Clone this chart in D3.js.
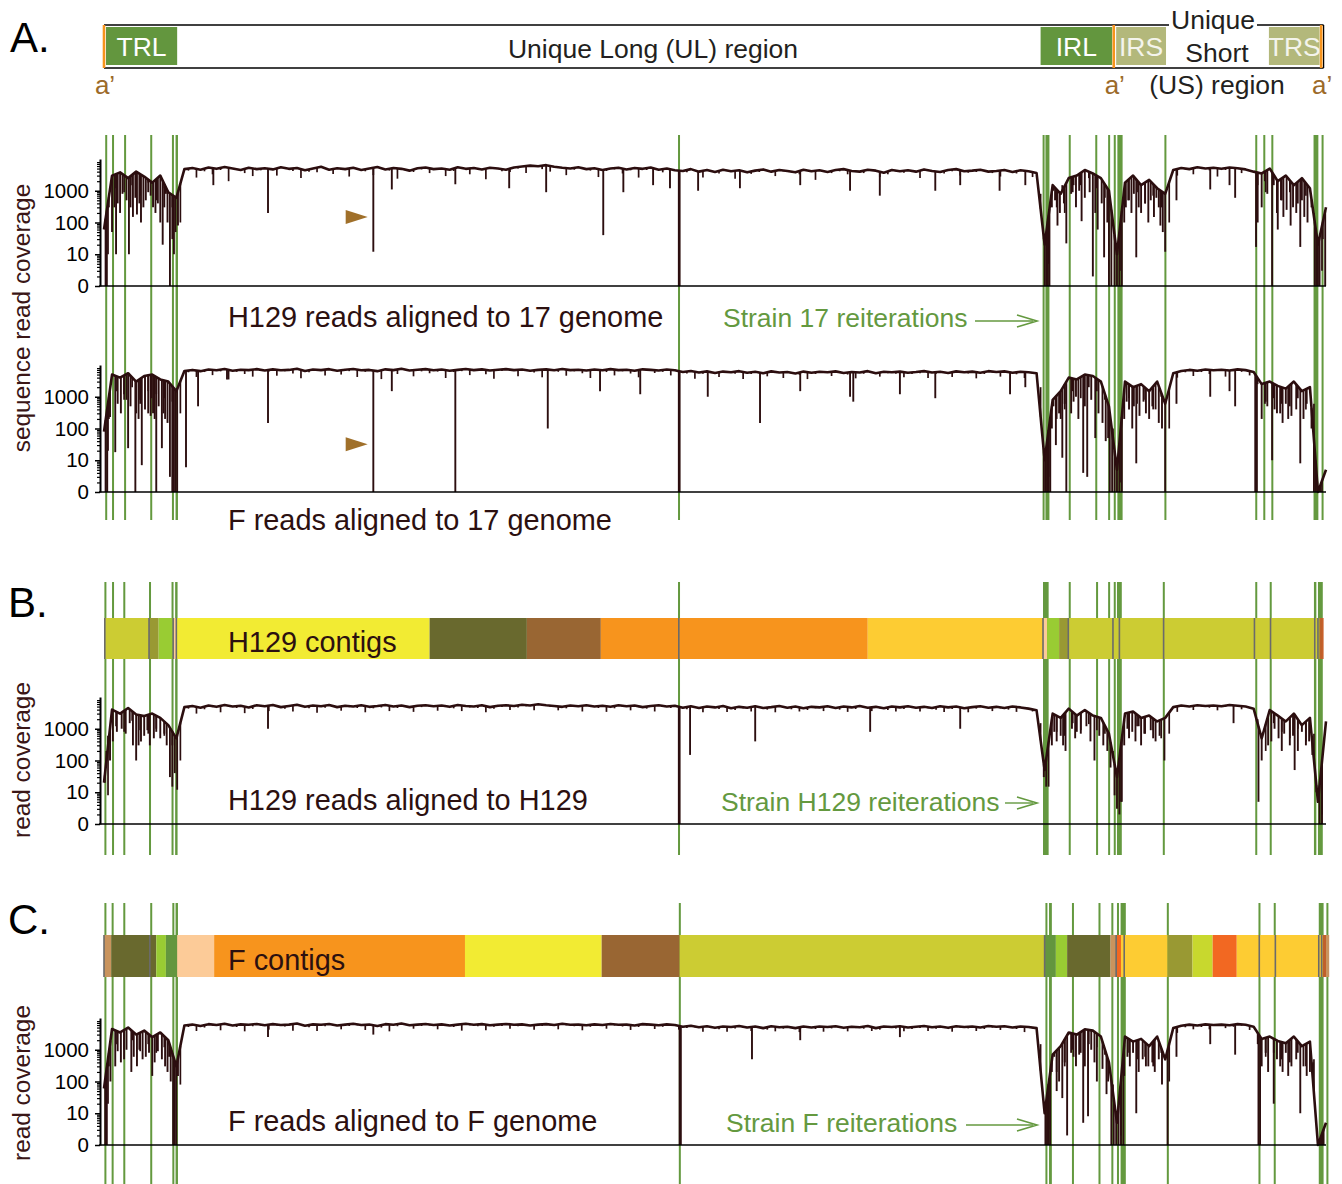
<!DOCTYPE html>
<html>
<head>
<meta charset="utf-8">
<script src="https://cdn.jsdelivr.net/npm/d3@7"></script>
<style>
  body { margin: 0; background: #fff; }
  svg text { font-family: "Liberation Sans", Arial, Helvetica, sans-serif; }
</style>
</head>
<body>
<div id="chart"></div>
<script>
// genome positions are in kb along the strain 17 map
var genomeLength = 152;

// y axis ticks (log scale, "0" drawn at 1 read)
var tickValues = [1, 10, 100, 1000];
var tickLabels = ["0", "10", "100", "1000"];
var minorTicks = [2, 3, 4, 5, 6, 7, 8, 9, 20, 30, 40, 50, 60, 70, 80, 90,
  200, 300, 400, 500, 600, 700, 800, 900, 2000, 3000, 4000, 5000, 6000, 7000, 8000];

// genome map regions
var regionNames = ["TRL", "IRL", "IRS", "TRS"];
var regionStart = [0.25, 116.5, 125.9, 144.9];
var regionEnd = [9.1, 125.4, 132.1, 151.2];
var aPrimeSites = [0, 125.6, 151.4];

// reiteration positions [start kb, end kb]
var reiter17 = [[0.15, 0.35], [1.0, 1.2], [2.5, 2.7], [5.75, 5.95], [8.45, 8.7], [8.9, 9.2],
  [71.4, 71.6], [116.75, 116.95], [117.1, 117.6], [120.0, 120.2], [123.3, 123.5], [124.9, 125.1],
  [125.6, 125.85], [126.05, 126.7], [131.9, 132.1], [143.2, 143.4], [144.2, 144.4], [145.2, 145.4],
  [150.45, 151.05], [151.45, 151.65]];
var reiterH129 = [[0.05, 0.25], [1.0, 1.2], [2.4, 2.6], [5.6, 5.8], [8.4, 8.6], [8.85, 9.15],
  [71.4, 71.6], [116.8, 117.5], [120.0, 120.2], [123.4, 123.6], [124.9, 125.1], [125.6, 125.8],
  [126.0, 126.6], [131.7, 131.9], [143.2, 143.4], [145.0, 145.2], [150.5, 150.8], [151.0, 151.6]];
var reiterF = [[0.05, 0.25], [0.95, 1.1], [2.4, 2.6], [5.75, 5.95], [8.5, 8.75], [8.9, 9.2],
  [71.5, 71.7], [117.1, 117.3], [117.55, 117.9], [120.4, 120.6], [123.7, 123.9], [125.3, 125.5],
  [126.0, 126.2], [126.45, 127.1], [132.2, 132.4], [143.6, 143.8], [145.5, 145.7], [151.1, 151.7],
  [152.05, 152.2]];

// contigs [start kb, end kb, colour]
var h129Contigs = [[0.1, 5.6, "#cccc33"], [5.6, 6.8, "#999933"], [6.8, 8.6, "#99cc33"], [8.6, 9.0, "#fccb98"],
  [9.0, 40.5, "#f2eb33"], [40.5, 52.6, "#69692e"], [52.6, 61.8, "#996633"], [61.8, 95.0, "#f7941d"],
  [95.0, 116.8, "#fdcc33"], [116.8, 117.3, "#fccb98"], [117.3, 118.8, "#99cc33"], [118.8, 120.0, "#999933"],
  [120.0, 150.5, "#cccc33"], [150.5, 151.2, "#cccc33"], [151.2, 151.5, "#c0602a"], [151.5, 151.7, "#c8602a"]];
var h129Breaks = [0.1, 5.6, 8.6, 9.0, 71.5, 116.8, 119.95, 125.5, 126.3, 131.8, 143.1, 145.1, 150.6, 151.0];
var fContigs = [[0, 0.9, "#c9945e"], [0.9, 6.5, "#69692e"], [6.5, 7.7, "#99cc33"], [7.7, 9.1, "#63963e"],
  [9.1, 13.7, "#fccb98"], [13.7, 44.9, "#f7941d"], [44.9, 61.9, "#f2eb33"], [61.9, 71.6, "#996633"],
  [71.6, 117.0, "#cccc33"], [117.0, 118.4, "#63963e"], [118.4, 119.8, "#99cc33"], [119.8, 125.2, "#69692e"],
  [125.2, 126.0, "#c9945e"], [126.0, 126.5, "#f26822"], [126.5, 132.3, "#fdcc33"], [132.3, 135.4, "#999933"],
  [135.4, 137.9, "#c8d82e"], [137.9, 140.9, "#f26822"], [140.9, 151.6, "#fdcc33"], [151.6, 152.0, "#c0602a"],
  [152.0, 152.4, "#c9945e"]];
var fBreaks = [0, 5.7, 117.0, 125.9, 126.9, 143.7, 145.7, 151.1, 151.45];

// read coverage per kb: top value at each kb, lowest value in the following half kb
var h129On17 = [60, 3000, 3800, 2500, 4000, 2800, 1800, 3000, 900, 600,
  4800, 5200, 4600, 5400, 4900, 5600, 5000, 4500, 5300, 4800,
  5100, 4700, 5500, 4900, 5200, 4400, 5000, 5700, 4600, 5100,
  4800, 5300, 4500, 5000, 5600, 4700, 5200, 4900, 4300, 5100,
  5400, 4800, 5000, 4600, 5500, 4900, 5200, 4700, 5300, 5000,
  4600, 5400, 5800, 6200, 5900, 6400, 5700, 5300, 5000, 5500,
  4800, 5100, 4500, 5000, 5300, 4700, 5200, 4900, 5400, 4600,
  5000, 4400, 4200, 4800, 4000, 4500, 3900, 4600, 4100, 4400,
  3800, 4300, 4700, 4000, 4500, 4200, 3800, 4600, 4100, 4400,
  3900, 4500, 4800, 4200, 4000, 4600, 4300, 3700, 4500, 4100,
  4400, 4000, 4700, 4200, 3900, 4500, 4800, 4100, 4300, 4600,
  4000, 4200, 4500, 3900, 4400, 4100, 3600, 20, 1500, 800,
  2500, 3000, 4500, 3500, 2500, 1000, 10, 1800, 3000, 1500,
  2200, 1200, 800, 4500, 5200, 4800, 5500, 5000, 5300, 4900,
  5400, 5100, 4700, 4000, 3500, 5000, 2000, 3000, 1500, 2500,
  1200, 20, 300];
var h129On17Low = [10, 1200, 900, 1500, 700, 1800, 500, 1200, 300, 100,
  4300, 2600, 4100, 3300, 4500, 2000, 4600, 3600, 2900, 4400,
  4800, 3000, 5000, 4200, 2500, 4000, 3800, 5100, 3400, 4700,
  2800, 4900, 4100, 3100, 5200, 4300, 2400, 4400, 3900, 4700,
  3600, 4500, 2900, 4200, 5000, 3300, 4800, 2300, 4900, 4100,
  3900, 5000, 3600, 5600, 4800, 4000, 5300, 3100, 4600, 4900,
  4300, 2700, 4200, 4700, 3500, 4400, 2600, 4500, 5000, 3800,
  4600, 3000, 3800, 4300, 2600, 4100, 3500, 4200, 2400, 4000,
  3400, 3900, 4300, 2900, 4100, 3800, 3300, 4200, 2200, 4000,
  3600, 4100, 3300, 3900, 3600, 4200, 2700, 3300, 4100, 3700,
  4000, 2500, 4300, 3800, 3500, 4100, 3000, 3700, 3900, 4200,
  3600, 2800, 4100, 3500, 3900, 2700, 800, 5, 300, 200,
  900, 1500, 2500, 1200, 600, 100, 3, 500, 900, 400,
  700, 300, 100, 3000, 4700, 3300, 5000, 4400, 2800, 4500,
  4900, 3600, 4300, 1500, 900, 2500, 500, 900, 400, 700,
  200, 3, 50];
var h129On17Dips = [[0.2, 1], [0.35, 1], [0.6, 300], [1.0, 50], [1.3, 300], [1.5, 10], [1.7, 400],
  [2.0, 200], [2.3, 800], [2.8, 500], [3.1, 10], [3.3, 300], [3.6, 150], [3.9, 600], [4.1, 180],
  [4.4, 400], [4.6, 100], [4.9, 300], [5.2, 500], [5.5, 900], [5.8, 700], [6.1, 300], [6.4, 200],
  [6.7, 400], [7.0, 100], [7.3, 20], [7.5, 300], [7.7, 800], [7.9, 100],
  [8.2, 1], [8.5, 30], [8.7, 10], [8.9, 50], [9.2, 80], [13.6, 1500], [20.4, 200], [33.5, 12],
  [35.8, 1100], [43.7, 1600], [50.4, 1200], [55.0, 900], [62.1, 40], [64.6, 900], [68.3, 1500],
  [70.4, 1200], [71.5, 1], [71.6, 1], [73.9, 1000], [79.1, 1200], [86.6, 1500], [92.8, 1000],
  [96.5, 700], [103.4, 1000], [106.5, 1500], [111.4, 1000], [114.6, 1500],
  [116.9, 30], [117.0, 1], [117.2, 1], [117.4, 1], [117.6, 1], [117.9, 300], [118.1, 1000],
  [118.3, 500], [118.6, 80], [118.9, 200], [119.2, 1500], [119.4, 400], [119.7, 22], [120.3, 800],
  [120.6, 1500], [120.9, 300], [121.3, 1000], [121.6, 110], [122.0, 600], [122.6, 900], [123.0, 2],
  [123.3, 200], [123.6, 60], [124.1, 400], [124.4, 8], [124.8, 100],
  [125.0, 1], [125.3, 1], [125.7, 1], [126.0, 1], [126.3, 1], [126.6, 1], [126.9, 100], [127.1, 300],
  [127.4, 500], [127.8, 200], [128.1, 800], [128.4, 8], [128.7, 300], [129.0, 200], [129.5, 400],
  [129.9, 100], [130.2, 500], [130.6, 150], [130.9, 600], [131.2, 300], [131.4, 80], [131.7, 50],
  [132.0, 12], [133.4, 500], [137.6, 1100], [140.0, 1500], [140.7, 600], [143.3, 17], [143.5, 100],
  [144.0, 300], [144.4, 2000], [144.7, 800], [145.3, 1], [145.5, 1500], [145.9, 200], [146.0, 60],
  [146.4, 500], [146.7, 150], [147.1, 250], [147.6, 80], [147.9, 300], [148.3, 200], [148.8, 17],
  [149.0, 500], [149.3, 150], [149.7, 100], [150.2, 300], [150.6, 1],
  [150.8, 1], [151.0, 1], [151.2, 1], [151.6, 30], [151.9, 1]];

var fOn17 = [80, 5000, 4000, 5500, 3000, 4500, 5000, 3500, 3000, 1500,
  6500, 7000, 6400, 7200, 6800, 7500, 6600, 7100, 6900, 7400,
  6700, 7300, 6800, 7000, 7600, 6500, 7200, 6900, 7400, 6600,
  7100, 7500, 6800, 7000, 6400, 7300, 6900, 7600, 6700, 7100,
  7400, 6800, 7200, 6600, 7000, 7500, 6900, 7300, 6700, 7100,
  7400, 6900, 7200, 6600, 7000, 7300, 6800, 7500, 6900, 7100,
  6700, 7200, 6800, 7400, 6900, 7100, 6600, 7300, 7000, 6700,
  7200, 6800, 6000, 6500, 5800, 6300, 5600, 6200, 5900, 6400,
  5700, 6100, 5500, 6300, 5800, 6000, 5400, 6200, 5700, 6100,
  5900, 6300, 5600, 6000, 5800, 6400, 5500, 6100, 5900, 6200,
  5700, 6000, 6400, 5800, 6100, 5600, 6300, 5900, 6200, 5700,
  6400, 6000, 6300, 5700, 6100, 5900, 5500, 10, 800, 1500,
  4000, 3500, 5000, 4500, 3000, 500, 5, 3000, 2000, 2500,
  1500, 3000, 600, 5500, 6500, 7000, 6600, 7200, 6800, 7100,
  6700, 7300, 6900, 6000, 2500, 3000, 2200, 1800, 3000, 1500,
  2000, 1, 5];
var fOn17Low = [20, 1500, 800, 2000, 600, 1500, 1200, 900, 700, 300,
  5900, 4200, 6000, 4800, 6300, 3500, 6100, 5200, 4300, 6600,
  6200, 4600, 6300, 5400, 3800, 5900, 6500, 4700, 6800, 5000,
  6400, 4200, 6100, 6400, 3600, 6600, 5200, 6900, 4400, 6300,
  5500, 6200, 3900, 6000, 6400, 4800, 6700, 5100, 3700, 6500,
  6600, 4400, 6500, 5800, 4100, 6700, 6100, 4600, 6300, 5500,
  3900, 6500, 6000, 4700, 6300, 5400, 4100, 6600, 5600, 6100,
  4700, 6200, 5400, 3700, 5300, 5800, 4200, 5700, 5300, 3600,
  5200, 5500, 4400, 5700, 3900, 5400, 4900, 3600, 5200, 5600,
  4500, 5700, 5000, 3800, 5300, 5800, 4300, 5500, 5300, 4100,
  5200, 5500, 3900, 5300, 5600, 4200, 5700, 5400, 3800, 5200,
  5800, 4300, 5700, 5100, 3900, 5300, 2000, 3, 200, 400,
  1500, 900, 2000, 1500, 800, 100, 2, 900, 600, 800,
  400, 1000, 100, 4000, 5900, 4500, 6000, 5200, 6500, 4300,
  6400, 6100, 4700, 2500, 700, 900, 600, 500, 900, 400,
  600, 1, 2];
var fOn17Dips = [[0.2, 1], [0.4, 1], [0.6, 200], [0.75, 230], [1.4, 18], [1.7, 600], [2.1, 300],
  [2.5, 1200], [2.8, 800], [3.0, 24], [3.3, 500], [3.9, 1], [4.0, 300], [4.3, 200], [4.5, 800],
  [4.7, 7], [5.1, 400], [5.5, 300], [5.8, 250], [5.9, 900], [6.1, 300], [6.3, 200], [6.5, 1],
  [6.8, 500], [7.2, 24], [7.4, 300], [7.6, 200], [7.9, 150],
  [8.2, 3], [8.5, 1], [8.7, 1], [8.9, 1], [9.1, 1], [10.2, 6], [11.7, 500], [15.3, 3500],
  [20.4, 150], [33.5, 1], [35.8, 1500], [43.7, 1], [55.2, 100], [61.7, 1500], [66.7, 1200],
  [71.5, 1], [71.6, 1], [75.1, 1000], [81.6, 150], [86.6, 1500], [92.8, 1000], [93.2, 700],
  [99.0, 1200], [103.4, 900], [112.7, 1200], [114.6, 2000],
  [116.9, 1], [117.1, 1], [117.3, 1], [117.5, 1], [117.7, 1], [117.9, 100], [118.1, 500],
  [118.4, 30], [118.8, 300], [119.0, 200], [119.2, 12], [119.5, 600], [119.7, 1], [120.3, 300],
  [120.6, 700], [120.9, 1000], [121.2, 200], [121.8, 4], [122.0, 500], [122.3, 3], [122.8, 800],
  [123.3, 50], [123.7, 300], [124.2, 150], [124.6, 40], [124.9, 50], [125.1, 1], [125.4, 1],
  [125.7, 1], [126.0, 1], [126.3, 1], [126.6, 1], [126.9, 200], [127.2, 700], [127.5, 400],
  [127.9, 100], [128.1, 500], [128.4, 8], [128.8, 250], [129.3, 700], [129.6, 300], [130.0, 200],
  [130.4, 500], [130.8, 400], [131.2, 150], [131.6, 100], [132.0, 1], [133.4, 600], [137.6, 1000],
  [140.0, 1500], [140.7, 500], [143.2, 1], [143.4, 1], [144.0, 200], [144.4, 600], [144.7, 500],
  [145.3, 10], [145.6, 400], [145.9, 300], [146.3, 300], [146.6, 150], [147.0, 600], [147.3, 200],
  [147.7, 250], [148.3, 400], [148.8, 8], [149.2, 200], [149.6, 600], [150.2, 100],
  [150.5, 1], [150.7, 1], [150.9, 1], [151.1, 1], [151.3, 1]];

var h129OnH129 = [20, 4000, 3000, 4500, 2800, 2500, 3000, 2200, 1300, 500,
  4800, 5200, 4600, 5400, 4900, 5600, 5000, 5300, 4700, 5500,
  5100, 5600, 4800, 5200, 5700, 4900, 5400, 5100, 5600, 4800,
  5300, 5000, 5500, 4900, 5200, 5600, 5000, 5400, 4800, 5300,
  5500, 5100, 5400, 4900, 5600, 5200, 5000, 5500, 4800, 5300,
  5500, 5200, 5700, 5400, 5900, 5500, 5200, 4900, 5400, 5100,
  5500, 5000, 5300, 4900, 5500, 5100, 5400, 4800, 5200, 5500,
  5000, 5300, 4600, 5100, 4500, 5000, 4700, 5200, 4400, 4900,
  4600, 5100, 4500, 4800, 5200, 4600, 5000, 4400, 4900, 4700,
  5100, 4500, 5000, 4700, 5200, 4600, 4900, 4400, 5000, 4700,
  5100, 4600, 4900, 4500, 5100, 4700, 5000, 4400, 4800, 5100,
  4600, 4900, 4500, 5000, 4700, 4300, 3800, 50, 3000, 2200,
  4300, 2600, 3900, 2600, 2200, 700, 30, 3000, 3500, 2200,
  2600, 1700, 2200, 4800, 5400, 5000, 5500, 5200, 5400, 5100,
  5600, 5300, 5000, 4300, 500, 3900, 2600, 1700, 3000, 1300,
  2200, 5, 1700];
var h129OnH129Low = [8, 1200, 800, 1800, 900, 700, 1000, 600, 300, 100,
  4300, 3000, 4100, 4800, 3300, 5000, 4500, 3100, 4200, 4900,
  3600, 5000, 4300, 3500, 5100, 4400, 3200, 4600, 5000, 3700,
  4800, 4500, 3300, 4400, 4700, 3600, 4500, 4900, 3400, 4800,
  5000, 3700, 4900, 4400, 3600, 4700, 4500, 3300, 4300, 4800,
  3900, 4700, 5100, 3800, 5300, 4900, 3800, 4400, 4900, 3500,
  5000, 4500, 3400, 4400, 4900, 3800, 4800, 4300, 3500, 4900,
  4500, 3600, 4100, 4600, 3300, 4500, 4200, 3400, 3900, 4400,
  3500, 4600, 4000, 3300, 4700, 4100, 3500, 3900, 4400, 3600,
  4600, 4000, 3400, 4200, 4700, 3600, 4400, 3900, 3500, 4200,
  4600, 3500, 4400, 4000, 3400, 4200, 4500, 3300, 4300, 4600,
  3600, 4400, 4000, 3400, 4200, 3500, 1500, 15, 800, 600,
  1500, 900, 1400, 900, 700, 200, 5, 900, 1200, 700,
  900, 500, 700, 3400, 4900, 3900, 5000, 4600, 3800, 4900,
  5000, 4100, 4600, 2000, 200, 1500, 800, 500, 1000, 400,
  700, 2, 500];
var h129OnH129Dips = [[0.1, 20], [0.3, 200], [0.5, 600], [0.75, 100], [1.1, 400], [1.6, 800],
  [2.2, 1000], [2.7, 700], [3.2, 1500], [3.6, 300], [4.0, 100], [4.3, 300], [4.6, 400], [5.0, 600],
  [5.4, 900], [5.7, 300], [6.2, 500], [6.5, 800], [7.0, 500], [7.5, 700], [7.8, 300],
  [8.2, 30], [8.5, 15], [8.8, 40], [9.1, 12], [20.4, 1000],
  [71.5, 1], [71.6, 1], [72.9, 150], [81.0, 400], [95.3, 800], [106.5, 1000], [116.9, 30],
  [117.2, 15], [117.9, 300], [118.2, 800], [118.5, 400], [119.0, 600], [119.3, 300], [119.6, 200],
  [120.4, 1000], [120.8, 500], [121.0, 800], [121.5, 700], [122.2, 1200], [122.7, 400], [123.2, 100],
  [123.8, 600], [124.3, 300], [124.8, 200], [125.2, 60], [125.7, 8],
  [126.0, 3], [126.3, 2], [126.6, 5], [126.9, 300], [127.3, 1000], [127.5, 500], [127.9, 800],
  [128.3, 400], [128.7, 1200], [129.0, 300], [129.4, 700], [130.2, 900], [130.5, 500], [130.8, 400],
  [131.3, 600], [131.9, 100], [140.5, 1500], [143.6, 5], [144.0, 100], [144.8, 300], [145.2, 400],
  [145.6, 1000], [146.1, 500], [146.5, 200], [146.8, 700], [147.5, 300], [147.9, 600], [148.1, 50],
  [148.5, 200], [149.0, 800], [149.5, 300], [149.9, 400], [150.3, 150], [150.8, 10],
  [151.2, 1], [151.5, 1]];

var fOnF = [60, 4500, 3500, 5000, 3000, 4000, 2500, 3500, 2000, 300,
  5800, 6200, 5600, 6400, 6000, 6600, 5800, 6300, 6100, 6500,
  5900, 6400, 6000, 6200, 6700, 5700, 6300, 6100, 6500, 5800,
  6200, 6600, 6000, 6200, 5600, 6400, 6100, 6700, 5900, 6200,
  6500, 6000, 6300, 5800, 6200, 6600, 6100, 6400, 5900, 6200,
  6500, 6100, 6300, 5800, 6200, 6400, 6000, 6600, 6100, 6200,
  5900, 6300, 6000, 6500, 6100, 6200, 5800, 6400, 6200, 5900,
  6300, 6000, 5300, 5700, 5100, 5500, 4900, 5400, 5200, 5600,
  5000, 5400, 4800, 5500, 5100, 5300, 4800, 5400, 5000, 5400,
  5200, 5500, 4900, 5300, 5100, 5600, 4800, 5400, 5200, 5500,
  5000, 5300, 5600, 5100, 5400, 4900, 5500, 5200, 5400, 5000,
  5600, 5300, 5500, 5000, 5400, 5200, 4800, 10, 700, 1300,
  3500, 3000, 4400, 4000, 2600, 400, 5, 2600, 1800, 2200,
  1300, 2600, 500, 4800, 5700, 6200, 5800, 6300, 6000, 6200,
  5900, 6400, 6100, 5300, 2200, 2600, 1900, 1600, 2600, 1300,
  1800, 1, 5];
var fOnFLow = [20, 1500, 1000, 2000, 900, 1500, 800, 1200, 600, 80,
  5200, 3900, 5000, 5700, 4100, 5900, 5200, 3800, 5500, 5800,
  4300, 5800, 5400, 4000, 6000, 5100, 3900, 5500, 5900, 4400,
  5600, 5900, 4200, 5600, 5000, 3800, 5500, 6000, 4600, 5600,
  5800, 4400, 5700, 5200, 4000, 5900, 5500, 4100, 5300, 5600,
  4600, 5500, 5700, 4300, 5600, 5800, 4400, 5900, 5500, 4100,
  5300, 5700, 4600, 5800, 5400, 4200, 5200, 5800, 4500, 5300,
  5700, 4300, 4800, 5100, 3700, 4900, 4400, 3700, 4700, 5000,
  3900, 4900, 4300, 3800, 4600, 4800, 3600, 4900, 4500, 3700,
  4700, 4900, 3800, 4800, 4600, 3900, 4300, 4900, 4700, 3800,
  4500, 4800, 3900, 4600, 4900, 3700, 5000, 4700, 3900, 4500,
  5000, 4200, 4900, 4500, 3600, 4700, 1500, 3, 200, 300,
  1000, 800, 1500, 1200, 700, 80, 2, 800, 500, 600,
  300, 800, 100, 3400, 5100, 4400, 5200, 4400, 5700, 4800,
  5300, 5700, 4200, 1500, 600, 800, 500, 400, 800, 300,
  500, 1, 2];
var fOnFDips = [[0.15, 1], [0.35, 1], [0.6, 300], [0.8, 100], [1.4, 300], [1.7, 900], [2.1, 400],
  [2.5, 500], [2.8, 1000], [3.4, 200], [3.7, 600], [4.1, 300], [4.4, 1000], [4.8, 500], [5.2, 600],
  [5.6, 800], [6.0, 150], [6.3, 400], [6.7, 900], [7.2, 500], [7.6, 300], [7.9, 200], [8.1, 600],
  [8.3, 100], [8.6, 1], [8.8, 1], [9.0, 1], [9.2, 150],
  [20.4, 2500], [33.5, 3000], [71.6, 1], [71.75, 1], [80.6, 500], [86.6, 2000], [99.0, 2500],
  [117.1, 1], [117.3, 1], [117.5, 1], [117.7, 1], [117.9, 200], [118.2, 600], [118.5, 50],
  [118.8, 100], [119.2, 30], [119.5, 400], [119.8, 2], [120.3, 800], [120.6, 600], [120.9, 300],
  [121.3, 700], [121.8, 5], [122.0, 300], [122.4, 8], [122.8, 1000], [123.2, 400], [123.5, 100],
  [124.2, 250], [124.7, 40], [124.9, 100], [125.3, 1], [125.6, 1], [125.9, 1], [126.2, 1],
  [126.5, 1], [126.8, 1], [126.9, 150], [127.3, 600], [127.6, 300], [128.0, 800], [128.4, 10],
  [128.7, 200], [129.2, 500], [129.6, 300], [129.9, 300], [130.4, 400], [130.7, 200], [131.2, 500],
  [131.6, 80], [132.3, 1], [133.4, 600], [137.6, 1500], [140.7, 700], [143.6, 1], [143.8, 1],
  [144.0, 300], [144.5, 800], [144.8, 200], [145.5, 20], [145.9, 500], [146.3, 300], [146.6, 200],
  [147.0, 800], [147.3, 150], [147.7, 300], [148.3, 500], [148.8, 10], [149.2, 300], [149.6, 150],
  [150.0, 200], [150.4, 400], [151.1, 1], [151.3, 1], [151.5, 1], [151.7, 1]];

// ------------------------------------------------------------------
var green = "#64993f", traceColor = "#2c0e0f", labelColor = "#2c1010", brown = "#9c6a29";

var svg = d3.select("#chart").append("svg")
  .attr("width", 1342).attr("height", 1184);

var x = d3.scaleLinear().domain([0, genomeLength]).range([104, 1326]);

function drawReiterations(regions, top, bottom) {
  svg.append("g").selectAll("rect")
    .data(regions).enter().append("rect")
      .attr("x", function (d) { return x(d[0]); })
      .attr("width", function (d) { return Math.max(2, x(d[1]) - x(d[0])); })
      .attr("y", top)
      .attr("height", bottom - top)
      .attr("fill", green);
}

function drawContigs(contigs, breaks, top, height) {
  var g = svg.append("g");
  g.selectAll("rect.contig")
    .data(contigs).enter().append("rect")
      .attr("class", "contig")
      .attr("x", function (d) { return x(d[0]); })
      .attr("width", function (d) { return x(d[1]) - x(d[0]); })
      .attr("y", top).attr("height", height)
      .attr("fill", function (d) { return d[2]; });
  g.selectAll("rect.brk")
    .data(breaks).enter().append("rect")
      .attr("class", "brk")
      .attr("x", function (d) { return x(d) - 0.8; })
      .attr("width", 1.6)
      .attr("y", top).attr("height", height)
      .attr("fill", "#6b6b6b");
}

function coverageChart(zeroY, high, low, dips) {
  var y = d3.scaleLog().domain([1, 10000]).range([zeroY, zeroY - 127]);
  var yv = function (v) { return y(Math.max(1, v)); };
  // pixel height of the drawn trace at any genome position
  var traceY = function (kb) {
    var i = Math.min(high.length - 2, Math.floor(kb)), f = kb - i;
    return yv(high[i]) * (1 - f) + yv(high[i + 1]) * f;
  };
  var g = svg.append("g");

  var line = d3.line()
    .x(function (d, i) { return x(i); })
    .y(function (d) { return yv(d); });
  g.append("path")
    .datum(high)
    .attr("d", line)
    .attr("fill", "none")
    .attr("stroke", traceColor)
    .attr("stroke-width", 2.6)
    .attr("stroke-linejoin", "round");

  // low points within each kb
  g.selectAll("line.low")
    .data(low.slice(0, high.length - 1)).enter().append("line")
      .attr("class", "low")
      .attr("x1", function (d, i) { return x(i + 0.5); })
      .attr("x2", function (d, i) { return x(i + 0.5); })
      .attr("y1", function (d) { return yv(d); })
      .attr("y2", function (d, i) { return traceY(i + 0.5); })
      .attr("stroke", traceColor)
      .attr("stroke-width", 1.7);

  g.selectAll("line.dip")
    .data(dips).enter().append("line")
      .attr("class", "dip")
      .attr("x1", function (d) { return x(d[0]); })
      .attr("x2", function (d) { return x(d[0]); })
      .attr("y1", function (d) { return yv(d[1]); })
      .attr("y2", function (d) { return traceY(d[0]); })
      .attr("stroke", traceColor)
      .attr("stroke-width", 1.9);

  // baseline
  g.append("line")
    .attr("x1", 99).attr("x2", x(genomeLength))
    .attr("y1", zeroY).attr("y2", zeroY)
    .attr("stroke", "#000").attr("stroke-width", 1.6);

  var ax = g.append("g").attr("transform", "translate(100,0)")
    .call(d3.axisLeft(y).tickValues(tickValues)
      .tickFormat(function (d, i) { return tickLabels[i]; })
      .tickSize(5).tickPadding(6).tickSizeOuter(0));
  ax.selectAll("text").attr("font-size", 20.5).attr("fill", "#000")
    .style("font-family", "Liberation Sans, Arial, sans-serif");
  ax.select(".domain").attr("stroke-width", 2);
  ax.selectAll(".tick line").attr("stroke-width", 1.5);
  var mx = g.append("g").attr("transform", "translate(100,0)")
    .call(d3.axisLeft(y).tickValues(minorTicks).tickFormat("").tickSize(3).tickSizeOuter(0));
  mx.select(".domain").remove();
  mx.selectAll(".tick line").attr("stroke-width", 1.2);
  return y;
}

function label(txt, px, py, size, color, anchor) {
  return svg.append("text")
    .attr("x", px).attr("y", py)
    .attr("font-size", size)
    .attr("fill", color)
    .attr("text-anchor", anchor || "start")
    .text(txt);
}

function reiterArrow(x1, x2, py) {
  svg.append("line").attr("x1", x1).attr("x2", x2 - 4).attr("y1", py).attr("y2", py)
    .attr("stroke", green).attr("stroke-width", 1.4);
  svg.append("path")
    .attr("d", "M" + (x2 - 20) + "," + (py - 6) + " L" + x2 + "," + py + " L" + (x2 - 20) + "," + (py + 6))
    .attr("fill", "none").attr("stroke", green).attr("stroke-width", 1.6);
}

// ---------------- reiteration lines (behind everything) ----------------
drawReiterations(reiter17, 135, 520);
drawReiterations(reiterH129, 582, 855);
drawReiterations(reiterF, 903, 1184);

// ---------------- A. genome map ----------------
label("A.", 10, 52, 42, "#000");
label("B.", 8, 617, 42, "#000");
label("C.", 8, 934, 42, "#000");

var regionFill = { TRL: "#63963e", IRL: "#63963e", IRS: "#b3b87b", TRS: "#b3b87b" };
svg.append("g").selectAll("rect")
  .data(regionNames).enter().append("rect")
    .attr("x", function (d, i) { return x(regionStart[i]); })
    .attr("width", function (d, i) { return x(regionEnd[i]) - x(regionStart[i]); })
    .attr("y", 27).attr("height", 38)
    .attr("fill", function (d) { return regionFill[d]; });
svg.append("g").selectAll("text")
  .data(regionNames).enter().append("text")
    .attr("x", function (d, i) { return (x(regionStart[i]) + x(regionEnd[i])) / 2; })
    .attr("y", 56)
    .attr("text-anchor", "middle")
    .attr("font-size", 26.5)
    .attr("fill", function (d) { return regionFill[d] === "#b3b87b" ? "#f4f4ec" : "#fff"; })
    .text(function (d) { return d; });

svg.append("line").attr("x1", x(0)).attr("x2", x(151.7)).attr("y1", 25).attr("y2", 25)
  .attr("stroke", "#000").attr("stroke-width", 1.3);
svg.append("line").attr("x1", x(0)).attr("x2", x(151.7)).attr("y1", 68).attr("y2", 68)
  .attr("stroke", "#000").attr("stroke-width", 1.5);
svg.append("line").attr("x1", x(151.7)).attr("x2", x(151.7)).attr("y1", 25).attr("y2", 68)
  .attr("stroke", "#000").attr("stroke-width", 1.3);
svg.append("g").selectAll("line")
  .data(aPrimeSites).enter().append("line")
    .attr("x1", function (d) { return x(d); }).attr("x2", function (d) { return x(d); })
    .attr("y1", 25).attr("y2", 68)
    .attr("stroke", "#f7941d").attr("stroke-width", 2.6);
svg.append("g").selectAll("text")
  .data(aPrimeSites).enter().append("text")
    .attr("x", function (d) { return x(d) + 1; })
    .attr("y", 94)
    .attr("text-anchor", "middle")
    .attr("font-size", 26)
    .attr("fill", brown)
    .text("a\u2019");

label("Unique Long (UL) region", 653, 58, 26.5, "#231f20", "middle");
var uq = label("Unique", 1213, 29, 26.5, "#231f20", "middle");
var bb = uq.node().getBBox();
svg.insert("rect", function () { return uq.node(); })
  .attr("x", bb.x - 2).attr("y", 22).attr("width", bb.width + 4).attr("height", 6)
  .attr("fill", "#fff");
label("Short", 1217, 62, 26.5, "#231f20", "middle");
label("(US) region", 1217, 94, 26.5, "#231f20", "middle");

// ---------------- coverage panels ----------------
var yA1 = coverageChart(286, h129On17, h129On17Low, h129On17Dips);
var yA2 = coverageChart(492, fOn17, fOn17Low, fOn17Dips);

drawContigs(h129Contigs, h129Breaks, 618, 41);
coverageChart(824, h129OnH129, h129OnH129Low, h129OnH129Dips);

drawContigs(fContigs, fBreaks, 935, 42);
coverageChart(1145, fOnF, fOnFLow, fOnFDips);

// brown arrowheads pointing at the deletion
var markers = [[yA1, 150], [yA2, 32]];
svg.append("g").selectAll("path")
  .data(markers).enter().append("path")
    .attr("d", function (d) {
      var tx = x(32.8), ty = d[0](d[1]);
      return "M" + tx + "," + ty + " L" + (tx - 22) + "," + (ty - 7) + " L" + (tx - 22) + "," + (ty + 7) + "Z";
    })
    .attr("fill", "#a0702a");

// axis titles
function yTitle(txt, cy) {
  svg.append("text")
    .attr("transform", "translate(30," + cy + ") rotate(-90)")
    .attr("text-anchor", "middle")
    .attr("font-size", 24.4)
    .attr("fill", "#3a1616")
    .text(txt);
}
yTitle("sequence read coverage", 318);
yTitle("read coverage", 760);
yTitle("read coverage", 1083);

// panel labels
label("H129 reads aligned to 17 genome", 228, 327, 28.9, labelColor);
label("F reads aligned to 17 genome", 228, 530, 28.9, labelColor);
label("H129 contigs", 228, 652, 28.9, labelColor);
label("H129 reads aligned to H129", 228, 810, 28.9, labelColor);
label("F contigs", 228, 970, 28.9, labelColor);
label("F reads aligned to F genome", 228, 1131, 28.9, labelColor);

label("Strain 17 reiterations", 723, 327, 26.5, green);
reiterArrow(975, 1037, 321);
label("Strain H129 reiterations", 721, 811, 26.5, green);
reiterArrow(1005, 1037, 803);
label("Strain F reiterations", 726, 1132, 26.5, green);
reiterArrow(966, 1037, 1125);
</script>
</body>
</html>
